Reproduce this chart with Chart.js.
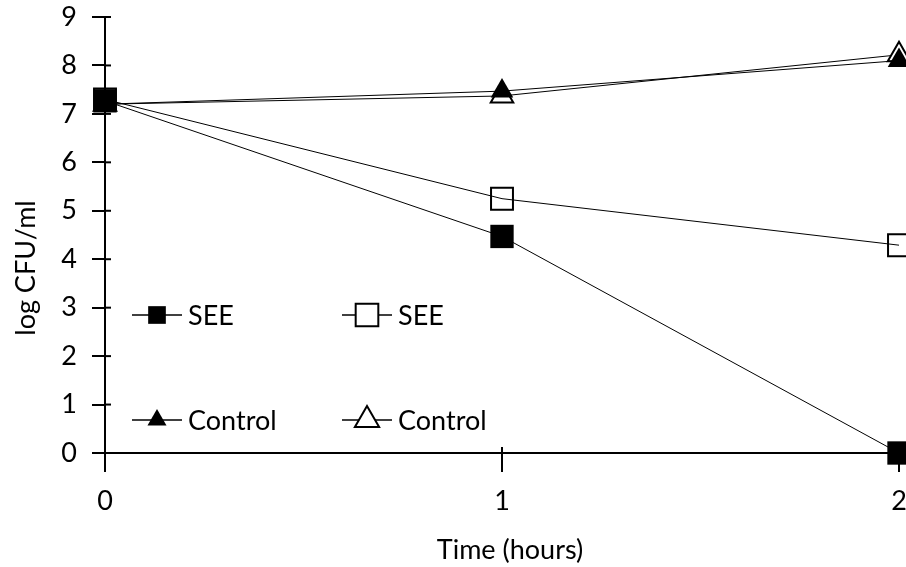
<!DOCTYPE html>
<html>
<head>
<meta charset="utf-8">
<script src="https://cdn.jsdelivr.net/npm/chart.js@4.4.1/dist/chart.umd.min.js"></script>
<style>
  html, body { margin: 0; padding: 0; background: #fff; }
  canvas { display: block; }
</style>
</head>
<body>
<canvas id="chart" width="906" height="567"></canvas>
<script>
// time points (hours)
const hours = ['0', '1', '2']
// log CFU/ml
const seeFilled = [7.27, 4.47, 0]
const seeOpen = [7.3, 5.25, 4.29]
const ctrlFilled = [7.2, 7.47, 8.1]
const ctrlOpen = [7.2, 7.37, 8.22]
const yTicks = [0, 1, 2, 3, 4, 5, 6, 7, 8, 9]

const FONT = 'Lato, "Open Sans", sans-serif'
const FSIZE = 27

// little inner part of tick marks, legend inside the plot, axis titles
const extras = {
  id: 'extras',
  afterDraw(chart) {
    const ctx = chart.ctx
    const xs = chart.scales.x, ys = chart.scales.y
    const area = chart.chartArea
    ctx.save()
    ctx.strokeStyle = '#000'
    ctx.lineWidth = 2
    yTicks.forEach(v => {
      const py = ys.getPixelForValue(v)
      ctx.beginPath(); ctx.moveTo(area.left, py); ctx.lineTo(area.left + 6, py); ctx.stroke()
    })
    hours.forEach((h, i) => {
      const px = xs.getPixelForValue(i)
      ctx.beginPath(); ctx.moveTo(px, area.bottom); ctx.lineTo(px, area.bottom - 6); ctx.stroke()
    })

    // legend
    const items = [
      { ds: 0, x: 132, y: 315 },
      { ds: 1, x: 342, y: 315 },
      { ds: 2, x: 132, y: 420 },
      { ds: 3, x: 342, y: 420 }
    ]
    ctx.font = FSIZE + 'px ' + FONT
    ctx.textBaseline = 'middle'
    ctx.textAlign = 'left'
    items.forEach(it => {
      const d = chart.data.datasets[it.ds]
      ctx.strokeStyle = '#000'
      ctx.lineWidth = 1.5
      ctx.beginPath(); ctx.moveTo(it.x, it.y); ctx.lineTo(it.x + 50, it.y); ctx.stroke()
      ctx.fillStyle = d.legendFill
      ctx.lineWidth = d.pointBorderWidth
      Chart.helpers.drawPoint(ctx, {
        pointStyle: d.pointStyle, radius: d.legendRadius, rotation: 0, borderWidth: d.pointBorderWidth
      }, it.x + 25, it.y)
      ctx.fillStyle = '#000'
      ctx.fillText(d.label, it.x + 56, it.y + 1)
    })

    // axis titles
    ctx.fillStyle = '#000'
    ctx.textAlign = 'center'
    ctx.fillText('Time (hours)', 510, 550)
    ctx.translate(26, 268)
    ctx.rotate(-Math.PI / 2)
    ctx.fillText('log CFU/ml', 0, 0)
    ctx.restore()
  }
}

new Chart(document.getElementById('chart'), {
  type: 'line',
  data: {
    labels: hours,
    datasets: [
      {
        label: 'SEE', data: seeFilled,
        borderColor: '#000', borderWidth: 1,
        pointStyle: 'rect', pointRadius: 16.5, pointBackgroundColor: '#000',
        pointBorderColor: '#000', pointBorderWidth: 0,
        legendFill: '#000', legendRadius: 12.5
      },
      {
        label: 'SEE', data: seeOpen,
        borderColor: '#000', borderWidth: 1,
        pointStyle: 'rect', pointRadius: 15.5, pointBackgroundColor: 'rgba(0,0,0,0)',
        pointBorderColor: '#000', pointBorderWidth: 2,
        legendFill: '#fff', legendRadius: 16
      },
      {
        label: 'Control', data: ctrlFilled,
        borderColor: '#000', borderWidth: 1,
        pointStyle: 'triangle', pointRadius: 13, pointBackgroundColor: '#000',
        pointBorderColor: '#000', pointBorderWidth: 0,
        legendFill: '#000', legendRadius: 11
      },
      {
        label: 'Control', data: ctrlOpen,
        borderColor: '#000', borderWidth: 1,
        pointStyle: 'triangle', pointRadius: 13, pointBackgroundColor: '#fff',
        pointBorderColor: '#000', pointBorderWidth: 2,
        legendFill: '#fff', legendRadius: 14
      }
    ]
  },
  options: {
    responsive: false,
    animation: false,
    devicePixelRatio: 1,
    clip: false,
    layout: { autoPadding: false, padding: { top: 17, right: 7, left: 0, bottom: 0 } },
    elements: { line: { tension: 0 } },
    plugins: { legend: { display: false }, tooltip: { enabled: false } },
    scales: {
      x: {
        type: 'category',
        offset: false,
        afterFit: s => { s.height = 114; s.paddingLeft = 0; s.paddingRight = 0 },
        border: { color: '#000', width: 2 },
        grid: { drawOnChartArea: false, drawTicks: true, tickLength: 19, color: '#000', lineWidth: 2 },
        ticks: { color: '#000', padding: 13, maxRotation: 0, font: { family: FONT, size: FSIZE } }
      },
      y: {
        min: 0, max: 9,
        afterFit: s => { s.width = 105; s.paddingTop = 0; s.paddingBottom = 0 },
        afterBuildTicks: s => { s.ticks = yTicks.map(v => ({ value: v })) },
        border: { color: '#000', width: 2 },
        grid: { drawOnChartArea: false, drawTicks: true, tickLength: 13, color: '#000', lineWidth: 2 },
        ticks: { color: '#000', padding: 15, font: { family: FONT, size: FSIZE } }
      }
    }
  },
  plugins: [extras]
})
</script>
</body>
</html>
